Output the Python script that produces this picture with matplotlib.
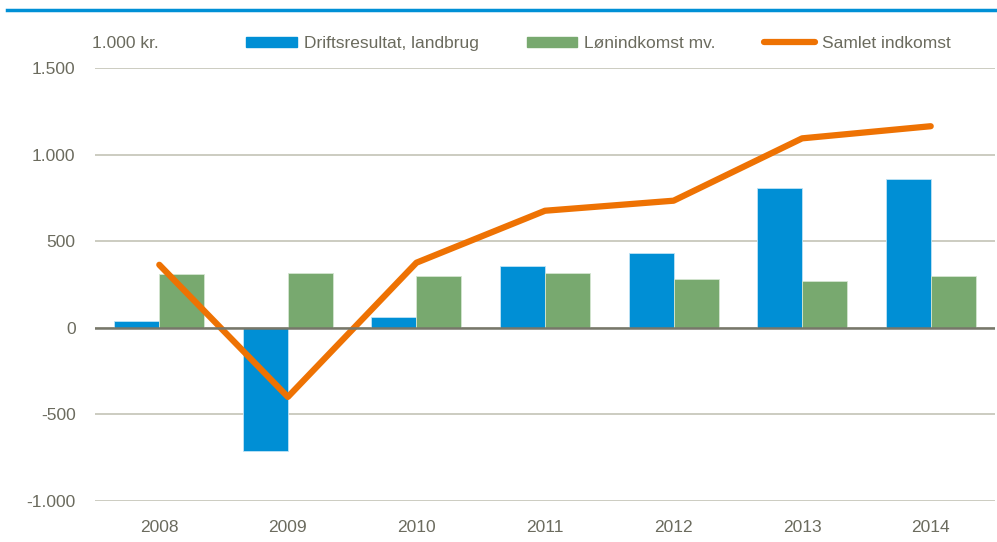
import matplotlib.pyplot as plt
import matplotlib.font_manager as fm
from matplotlib.lines import Line2D
from matplotlib.patches import Patch
from matplotlib.ticker import FuncFormatter
import numpy as np

# Data (1.000 kr.)
years = ["2008", "2009", "2010", "2011", "2012", "2013", "2014"]
drift = [40, -711, 64, 358, 433, 805, 857]
loen = [312, 318, 300, 318, 283, 272, 297]
samlet = [364, -399, 376, 676, 734, 1094, 1164]

names = {f.name for f in fm.fontManager.ttflist}
font = "Liberation Sans Narrow" if "Liberation Sans Narrow" in names else "Liberation Sans"
plt.rcParams["font.family"] = [font, "DejaVu Sans"]

txt = "#6b6b5e"
blue = "#008fd5"
green = "#78a96f"
orange = "#ee7203"
fs = 12.5

fig = plt.figure(figsize=(9.97, 5.42), dpi=100)
ax = fig.add_axes([0.0953, 0.0756, 0.9027, 0.7989])

x = np.arange(len(years))
w = 0.35
ax.bar(x - w / 2, drift, w, color=blue, edgecolor="#bfe3f5", linewidth=0.6, zorder=2)
ax.bar(x + w / 2, loen, w, color=green, edgecolor="#d5e6d1", linewidth=0.6, zorder=2)
ax.plot(x, samlet, color=orange, linewidth=4.5, solid_capstyle="round", zorder=3)

ax.set_xlim(-0.5, len(years) - 0.5)
ax.set_ylim(-1000, 1500)
ax.set_yticks([-1000, -500, 0, 500, 1000, 1500])
ax.yaxis.set_major_formatter(FuncFormatter(lambda v, p: f"{int(v):,}".replace(",", ".")))
ax.set_xticks(x)
ax.set_xticklabels(years)
ax.tick_params(length=0, labelsize=fs, colors=txt)
ax.tick_params(axis="y", pad=14)
ax.tick_params(axis="x", pad=14)
ax.yaxis.grid(True, color="#c4c4b6", linewidth=1.2, zorder=0)
ax.axhline(0, color="#77776a", linewidth=1.8, zorder=4)
for s in ax.spines.values():
    s.set_visible(False)

fig.text(0.092, 0.92, "1.000 kr.", color=txt, fontsize=fs, va="center")

handles = [Patch(color=blue), Patch(color=green),
           Line2D([0], [0], color=orange, linewidth=4.5, solid_capstyle="round")]
leg = fig.legend(handles, ["Driftsresultat, landbrug", "Lønindkomst mv.", "Samlet indkomst"],
                 ncol=3, loc="center left", bbox_to_anchor=(0.247, 0.92), frameon=False,
                 fontsize=fs, handlelength=2.9, handleheight=0.5, handletextpad=0.4,
                 columnspacing=2.8, labelcolor=txt, borderpad=0, borderaxespad=0)

# top rule
fig.add_artist(Line2D([0.007, 1.0], [0.981, 0.981], color="#0090d6", linewidth=2.5))

fig.savefig("out.png", dpi=100)
